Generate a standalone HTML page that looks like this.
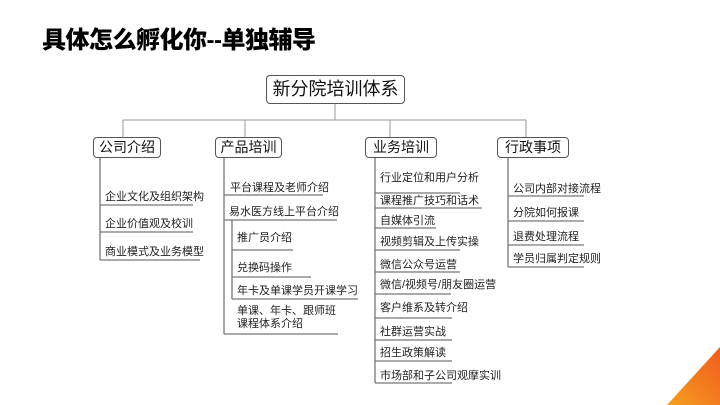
<!DOCTYPE html>
<html><head><meta charset="utf-8"><style>
body{margin:0;width:720px;height:405px;background:#fff;position:relative;overflow:hidden;font-family:"Liberation Sans","Noto Sans CJK SC",sans-serif;}
.t{position:absolute;font-size:11px;color:#222;white-space:nowrap;line-height:13px;}
.b{position:absolute;border:1px solid #555;border-radius:4px;background:#fff;font-size:14px;color:#111;text-align:center;box-sizing:border-box;}
h1{position:absolute;left:42px;top:27px;margin:0;font-size:24px;font-weight:900;color:#000;letter-spacing:-0.5px;line-height:28px;}
svg{position:absolute;left:0;top:0;}
</style></head><body>
<h1>具体怎么孵化你--单独辅导</h1>
<svg width="720" height="405">
<defs><linearGradient id="g" x1="0" y1="1" x2="1" y2="0"><stop offset="0" stop-color="#f5a020"/><stop offset="1" stop-color="#f25a1d"/></linearGradient></defs>
<polygon points="667,405 720,347 720,405" fill="url(#g)"/>
<g stroke="#999" stroke-width="1" fill="none">
<line x1="335" y1="104" x2="335" y2="120"/>
<line x1="123" y1="120" x2="526" y2="120"/>
<line x1="123" y1="120" x2="123" y2="137"/>
<line x1="245" y1="120" x2="245" y2="137"/>
<line x1="390" y1="120" x2="390" y2="137"/>
<line x1="526" y1="120" x2="526" y2="137"/>
</g>
<g stroke="#777" stroke-width="1.3" fill="none">
<line x1="100" y1="157" x2="100" y2="260"/>
<line x1="100" y1="205" x2="193" y2="205"/>
<line x1="100" y1="232" x2="193" y2="232"/>
<line x1="100" y1="260" x2="200" y2="260"/>
<line x1="224" y1="157" x2="224" y2="334"/>
<line x1="224" y1="195" x2="323" y2="195"/>
<line x1="224" y1="220" x2="337" y2="220"/>
<line x1="232" y1="220" x2="232" y2="299"/>
<line x1="232" y1="250" x2="293" y2="250"/>
<line x1="232" y1="277" x2="311" y2="277"/>
<line x1="232" y1="299" x2="358" y2="299"/>
<line x1="224" y1="334" x2="338" y2="334"/>
<line x1="375" y1="157" x2="375" y2="383"/>
<line x1="375" y1="193" x2="460" y2="193"/>
<line x1="375" y1="208" x2="482" y2="208"/>
<line x1="375" y1="228" x2="436" y2="228"/>
<line x1="375" y1="250" x2="460" y2="250"/>
<line x1="375" y1="272" x2="460" y2="272"/>
<line x1="375" y1="294" x2="451" y2="294"/>
<line x1="375" y1="318" x2="452" y2="318"/>
<line x1="375" y1="340" x2="452" y2="340"/>
<line x1="375" y1="361" x2="452" y2="361"/>
<line x1="375" y1="383" x2="452" y2="383"/>
<line x1="508" y1="157" x2="508" y2="267"/>
<line x1="508" y1="196" x2="584" y2="196"/>
<line x1="508" y1="221" x2="584" y2="221"/>
<line x1="508" y1="245" x2="584" y2="245"/>
<line x1="508" y1="267" x2="584" y2="267"/>
</g>
</svg>
<div class="b" style="left:266px;top:75px;width:139px;height:29px;font-size:18px;line-height:27px;">新分院培训体系</div>
<div class="b" style="left:93px;top:137px;width:68px;height:21px;line-height:19px;">公司介绍</div>
<div class="b" style="left:215px;top:137px;width:67px;height:21px;line-height:19px;">产品培训</div>
<div class="b" style="left:365px;top:137px;width:72px;height:21px;line-height:19px;">业务培训</div>
<div class="b" style="left:497px;top:137px;width:72px;height:21px;line-height:19px;">行政事项</div>

<div class="t" style="left:105px;top:191px">企业文化及组织架构</div>
<div class="t" style="left:105px;top:218px">企业价值观及校训</div>
<div class="t" style="left:105px;top:246px">商业模式及业务模型</div>

<div class="t" style="left:230px;top:182px">平台课程及老师介绍</div>
<div class="t" style="left:229px;top:206px">易水医方线上平台介绍</div>
<div class="t" style="left:237px;top:232px">推广员介绍</div>
<div class="t" style="left:237px;top:262px">兑换码操作</div>
<div class="t" style="left:237px;top:285px">年卡及单课学员开课学习</div>
<div class="t" style="left:237px;top:305px">单课、年卡、跟师班<br>课程体系介绍</div>

<div class="t" style="left:380px;top:172px">行业定位和用户分析</div>
<div class="t" style="left:380px;top:195px">课程推广技巧和话术</div>
<div class="t" style="left:380px;top:215px">自媒体引流</div>
<div class="t" style="left:380px;top:236px">视频剪辑及上传实操</div>
<div class="t" style="left:380px;top:259px">微信公众号运营</div>
<div class="t" style="left:380px;top:279px">微信/视频号/朋友圈运营</div>
<div class="t" style="left:380px;top:302px">客户维系及转介绍</div>
<div class="t" style="left:380px;top:326px">社群运营实战</div>
<div class="t" style="left:380px;top:347px">招生政策解读</div>
<div class="t" style="left:380px;top:370px">市场部和子公司观摩实训</div>

<div class="t" style="left:513px;top:183px">公司内部对接流程</div>
<div class="t" style="left:513px;top:207px">分院如何报课</div>
<div class="t" style="left:513px;top:231px">退费处理流程</div>
<div class="t" style="left:513px;top:253px">学员归属判定规则</div>
</body></html>
